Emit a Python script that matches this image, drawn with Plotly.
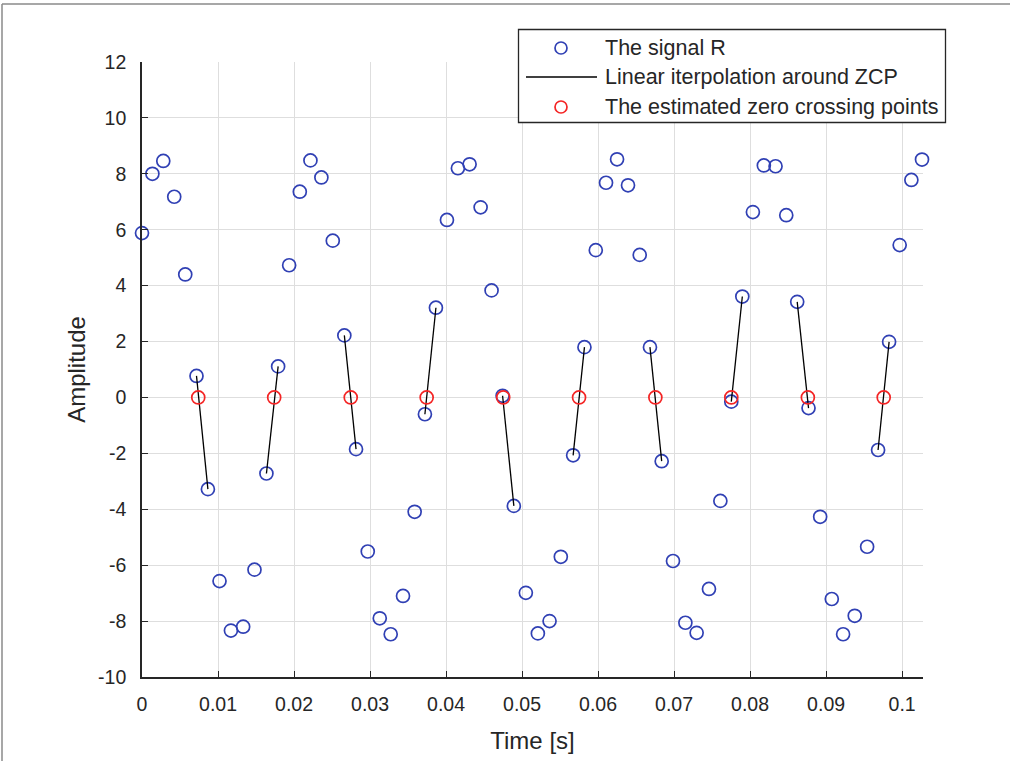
import plotly.graph_objects as go

# ---------------- data ----------------
t_signal = [0.0000, 0.00137, 0.00280, 0.00424, 0.00569, 0.00717, 0.00867, 0.01020, 0.01170, 0.01331,
            0.01480, 0.01637, 0.01791, 0.01936, 0.02076, 0.02216, 0.02360, 0.02510, 0.02662, 0.02816,
            0.02970, 0.03128, 0.03272, 0.03434, 0.03587, 0.03722, 0.03867, 0.04012, 0.04156, 0.04310,
            0.04455, 0.04599, 0.04744, 0.04892, 0.05050, 0.05208, 0.05362, 0.05510, 0.05672, 0.05821,
            0.05970, 0.06105, 0.06250, 0.06394, 0.06548, 0.06683, 0.06837, 0.06986, 0.07149, 0.07297,
            0.07459, 0.07609, 0.07753, 0.07898, 0.08037, 0.08181, 0.08335, 0.08476, 0.08620, 0.08769,
            0.08922, 0.09075, 0.09224, 0.09377, 0.09540, 0.09684, 0.09829, 0.09968, 0.10122, 0.10262]
r_signal = [5.88, 8.00, 8.46, 7.18, 4.40, 0.77, -3.28, -6.57, -8.34, -8.20,
            -6.16, -2.72, 1.11, 4.73, 7.36, 8.48, 7.87, 5.61, 2.22, -1.85,
            -5.51, -7.90, -8.47, -7.10, -4.09, -0.60, 3.21, 6.35, 8.20, 8.34,
            6.80, 3.83, 0.06, -3.88, -6.99, -8.44, -8.00, -5.70, -2.07, 1.80,
            5.27, 7.68, 8.52, 7.59, 5.10, 1.80, -2.28, -5.85, -8.06, -8.42,
            -6.85, -3.70, -0.15, 3.61, 6.63, 8.30, 8.27, 6.52, 3.42, -0.38,
            -4.27, -7.21, -8.47, -7.81, -5.34, -1.88, 1.99, 5.45, 7.78, 8.51]

# indices (0-based) of the sample pairs around each zero crossing
zcp_pairs = [(5, 6), (11, 12), (18, 19), (25, 26), (32, 33),
             (38, 39), (45, 46), (52, 53), (58, 59), (65, 66)]

t_zcp = [0.00740, 0.01739, 0.02746, 0.03745, 0.04752, 0.05750, 0.06754, 0.07753, 0.08760, 0.09758]
r_zcp = [0, 0, 0, 0, 0, 0, 0, 0, 0, 0]

x_tick_vals = [0, 0.01, 0.02, 0.03, 0.04, 0.05, 0.06, 0.07, 0.08, 0.09, 0.1]
x_tick_text = ['0', '0.01', '0.02', '0.03', '0.04', '0.05', '0.06', '0.07', '0.08', '0.09', '0.1']
y_tick_vals = [-10, -8, -6, -4, -2, 0, 2, 4, 6, 8, 10, 12]
y_tick_text = ['-10', '-8', '-6', '-4', '-2', '0', '2', '4', '6', '8', '10', '12']

legend_names = ['The signal R', 'Linear iterpolation around ZCP', 'The estimated zero crossing points']

# ---------------- style ----------------
BLUE = '#3040b4'
RED = '#f42424'
TXT = '#262626'
FONT = 'Liberation Sans, Arial, Helvetica, sans-serif'
W, H = 1010, 761
ML, MR, MT, MB = 142, 87, 62, 84
PW, PH = W - ML - MR, H - MT - MB


def px(x):
    return (x - ML) / PW


def py(y):
    return (H - MB - y) / PH


# interpolation segments
seg_x, seg_y = [], []
for a, b in zcp_pairs:
    seg_x += [t_signal[a], t_signal[b], None]
    seg_y += [r_signal[a], r_signal[b], None]

fig = go.Figure()
fig.add_trace(go.Scatter(x=t_signal, y=r_signal, mode='markers', name=legend_names[0],
                         marker=dict(symbol='circle-open', size=13, color=BLUE, line=dict(width=1.7, color=BLUE)),
                         showlegend=False, cliponaxis=False))
fig.add_trace(go.Scatter(x=seg_x, y=seg_y, mode='lines', name=legend_names[1],
                         line=dict(color='black', width=1.3), showlegend=False))
fig.add_trace(go.Scatter(x=t_zcp, y=r_zcp, mode='markers', name=legend_names[2],
                         marker=dict(symbol='circle-open', size=13, color=RED, line=dict(width=1.7, color=RED)),
                         showlegend=False))

shapes = []
annotations = []
# figure frame (thin grey border at top and left)
shapes.append(dict(type='line', xref='paper', yref='paper', x0=px(2), x1=px(1010), y0=py(4), y1=py(4),
                   line=dict(color='#8a8a8a', width=1.5)))
shapes.append(dict(type='line', xref='paper', yref='paper', x0=px(2), x1=px(2), y0=py(4), y1=py(761),
                   line=dict(color='#8a8a8a', width=1.5)))

# custom legend (MATLAB style)
shapes.append(dict(type='rect', xref='paper', yref='paper', x0=px(518.5), x1=px(945.5), y0=py(122.5), y1=py(29.5),
                   line=dict(color=TXT, width=1.3), fillcolor='white', layer='above'))
rows_y = [48, 77, 107]
shapes.append(dict(type='line', xref='paper', yref='paper', x0=px(526), x1=px(597), y0=py(rows_y[1]), y1=py(rows_y[1]),
                   line=dict(color='black', width=1.3)))
for ry, col in [(rows_y[0], BLUE), (rows_y[2], RED)]:
    shapes.append(dict(type='circle', xref='paper', yref='paper', xsizemode='pixel', ysizemode='pixel',
                       xanchor=px(561), yanchor=py(ry), x0=-6, x1=6, y0=-6, y1=6,
                       line=dict(color=col, width=1.7)))
for name, ry in zip(legend_names, rows_y):
    annotations.append(dict(text=name, xref='paper', yref='paper', x=px(603), y=py(ry),
                            xanchor='left', yanchor='middle', showarrow=False,
                            font=dict(family=FONT, size=21.5, color=TXT)))

fig.update_layout(
    width=W, height=H,
    margin=dict(l=ML, r=MR, t=MT, b=MB, pad=0),
    paper_bgcolor='white', plot_bgcolor='white',
    font=dict(family=FONT, color=TXT, size=19),
    shapes=shapes, annotations=annotations,
    showlegend=False,
    xaxis=dict(range=[0, 0.10275], tickvals=x_tick_vals, ticktext=x_tick_text,
               ticks='inside', ticklen=6, tickwidth=1.3, tickcolor=TXT,
               showgrid=True, gridcolor='#dedede', gridwidth=1,
               showline=True, linecolor=TXT, linewidth=1.6, zeroline=False,
               tickfont=dict(size=19.5, color=TXT), ticklabelstandoff=9,
               title=dict(text='Time [s]', font=dict(size=24, color=TXT), standoff=18)),
    yaxis=dict(range=[-10, 12], tickvals=y_tick_vals, ticktext=y_tick_text,
               ticks='inside', ticklen=6, tickwidth=1.3, tickcolor=TXT,
               showgrid=True, gridcolor='#dedede', gridwidth=1,
               showline=True, linecolor=TXT, linewidth=1.6, zeroline=False,
               tickfont=dict(size=19.5, color=TXT), ticklabelstandoff=10,
               title=dict(text='Amplitude', font=dict(size=24, color=TXT), standoff=6)),
)

fig.write_html('out.html')
